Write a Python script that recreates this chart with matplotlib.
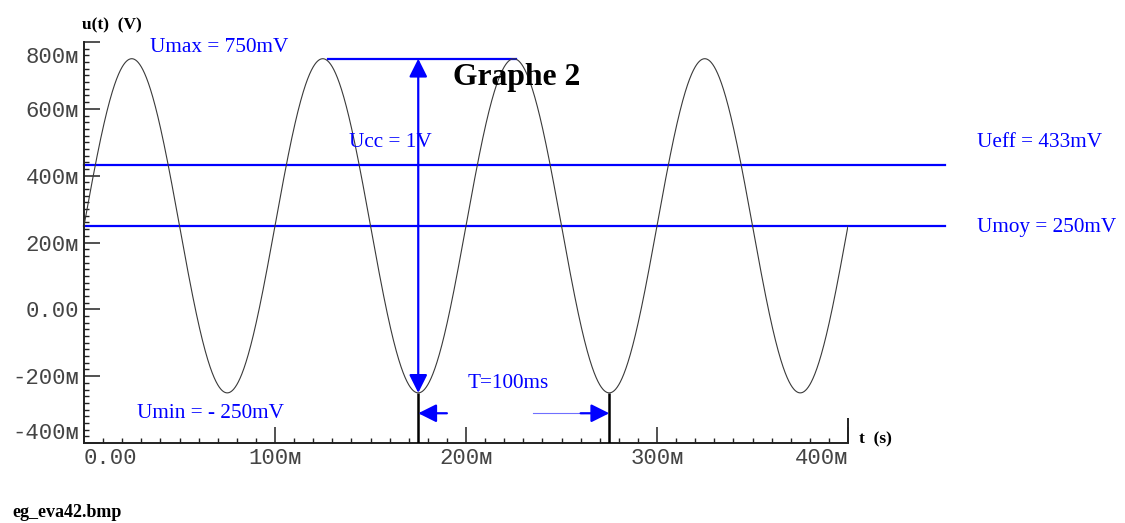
import numpy as np
import matplotlib
matplotlib.use("Agg")
import matplotlib.pyplot as plt
from matplotlib.ticker import MultipleLocator
from matplotlib.transforms import ScaledTranslation

# Signal characteristics (volts, seconds)
U_MAX = 0.750
U_MIN = -0.250
U_EFF = 0.433
PERIOD = 0.100
T_END = 0.400

# Axis ticks
x_ticks = [0.0, 0.1, 0.2, 0.3, 0.4]
x_tick_labels = ["0.00", "100ᴍ", "200ᴍ", "300ᴍ", "400ᴍ"]
y_ticks = [-0.4, -0.2, 0.0, 0.2, 0.4, 0.6, 0.8]
y_tick_labels = ["-400ᴍ", "-200ᴍ", "0.00", "200ᴍ", "400ᴍ", "600ᴍ", "800ᴍ"]

# Extent of the annotation guide lines (seconds)
level_line_end = 0.451
umax_line_span = (0.128, 0.226)

W, H = 1125, 523
BLUE = "#0000ff"
SERIF = "Liberation Serif"
TICK_FONT = ["Liberation Mono", "DejaVu Sans"]


def fx(px):
    return px / W


def fy(py):
    return 1 - py / H


fig = plt.figure(figsize=(W / 100, H / 100), dpi=100)
ax = fig.add_axes([fx(84), fy(443), 764 / W, 401 / H])

u_moy = (U_MAX + U_MIN) / 2
u_amp = (U_MAX - U_MIN) / 2
t = np.linspace(0, T_END, 3001)
u = u_moy + u_amp * np.sin(2 * np.pi * t / PERIOD)
ax.plot(t, u, color="#3a3a3a", lw=0.8, zorder=3)

ax.set_xlim(0, T_END)
ax.set_ylim(-0.4, 0.8)
for side in ("top", "right"):
    ax.spines[side].set_visible(False)
for side in ("left", "bottom"):
    ax.spines[side].set_linewidth(1.4)
    ax.spines[side].set_color("#222222")

ax.xaxis.set_minor_locator(MultipleLocator(0.01))
ax.yaxis.set_minor_locator(MultipleLocator(0.02))
ax.tick_params(which="major", direction="in", length=11.5, width=1.1,
               color="#222222", pad=3.5, labelcolor="#444444")
ax.tick_params(which="minor", direction="in", length=3.8, width=1.0,
               color="#222222")
ax.set_xticks(x_ticks)
ax.set_xticklabels(x_tick_labels, family=TICK_FONT, fontsize=16)
ax.set_yticks(y_ticks)
ax.set_yticklabels(y_tick_labels, family=TICK_FONT, fontsize=16)

# End labels are pulled inside the axis range
xl = ax.get_xticklabels()
xl[0].set_ha("left")
xl[-1].set_ha("right")
yl = ax.get_yticklabels()
yl[-1].set_transform(yl[-1].get_transform()
                     + ScaledTranslation(0, -0.128, fig.dpi_scale_trans))
yl[0].set_transform(yl[0].get_transform()
                    + ScaledTranslation(0, 0.12, fig.dpi_scale_trans))

# Closing bar at the end of the time axis
ax.plot([T_END, T_END], [-0.4, -0.325], color="#222222", lw=1.4,
        clip_on=False, solid_capstyle="butt")

# Mean and RMS levels
ax.plot([0, level_line_end], [U_EFF, U_EFF], color=BLUE, lw=1.6, clip_on=False)
ax.plot([0, level_line_end], [u_moy, u_moy], color=BLUE, lw=1.6, clip_on=False)

# Peak level and peak-to-peak arrow
t_low1 = 0.75 * PERIOD + PERIOD
t_low2 = t_low1 + PERIOD
ax.plot(umax_line_span, [U_MAX, U_MAX], color=BLUE, lw=1.6, clip_on=False)
ax.annotate("", xy=(t_low1, U_MAX), xytext=(t_low1, U_MIN),
            arrowprops=dict(arrowstyle="<|-|>,head_length=1.1,head_width=0.55",
                            mutation_scale=10, color=BLUE, lw=1.6,
                            shrinkA=0, shrinkB=0), zorder=4)

# Period markers
for tm in (t_low1, t_low2):
    ax.plot([tm, tm], [U_MIN, -0.4], color="black", lw=1.8, zorder=4,
            solid_capstyle="butt")
y_arrow = -0.311
ax.annotate("", xy=(t_low1, y_arrow), xytext=(t_low1 + 0.015, y_arrow),
            arrowprops=dict(arrowstyle="-|>,head_length=1.1,head_width=0.55",
                            mutation_scale=10, color=BLUE, lw=1.6,
                            shrinkA=0, shrinkB=0), zorder=4)
ax.plot([t_low2 - 0.040, t_low2 - 0.014], [y_arrow, y_arrow], color="#7070ff",
        lw=0.8)
ax.annotate("", xy=(t_low2, y_arrow), xytext=(t_low2 - 0.015, y_arrow),
            arrowprops=dict(arrowstyle="-|>,head_length=1.1,head_width=0.55",
                            mutation_scale=10, color=BLUE, lw=1.6,
                            shrinkA=0, shrinkB=0), zorder=4)

# Text
blue_kw = dict(family=SERIF, fontsize=15.3, color=BLUE, va="baseline")
fig.text(fx(150), fy(52), "Umax = 750mV", **blue_kw)
fig.text(fx(349), fy(147), "Ucc = 1V", **blue_kw)
fig.text(fx(977), fy(147.5), "Ueff = 433mV", **blue_kw)
fig.text(fx(977), fy(231.5), "Umoy = 250mV", **blue_kw)
fig.text(fx(137), fy(418.5), "Umin = - 250mV", **blue_kw)
fig.text(fx(468), fy(388.5), "T=100ms", **blue_kw)

fig.text(fx(453), fy(85), "Graphe 2", family=SERIF, fontsize=22.8,
         weight="bold", va="baseline")
fig.text(fx(82), fy(29), "u(t)  (V)", family=SERIF, fontsize=12.5,
         weight="bold", va="baseline")
fig.text(fx(859), fy(443), "t  (s)", family=SERIF, fontsize=12.5,
         weight="bold", va="baseline")
fig.text(fx(12), fy(517), "eg_eva42.bmp", family=SERIF, fontsize=13,
         weight="bold", va="baseline")

fig.savefig("out.png", dpi=100, facecolor="white")
